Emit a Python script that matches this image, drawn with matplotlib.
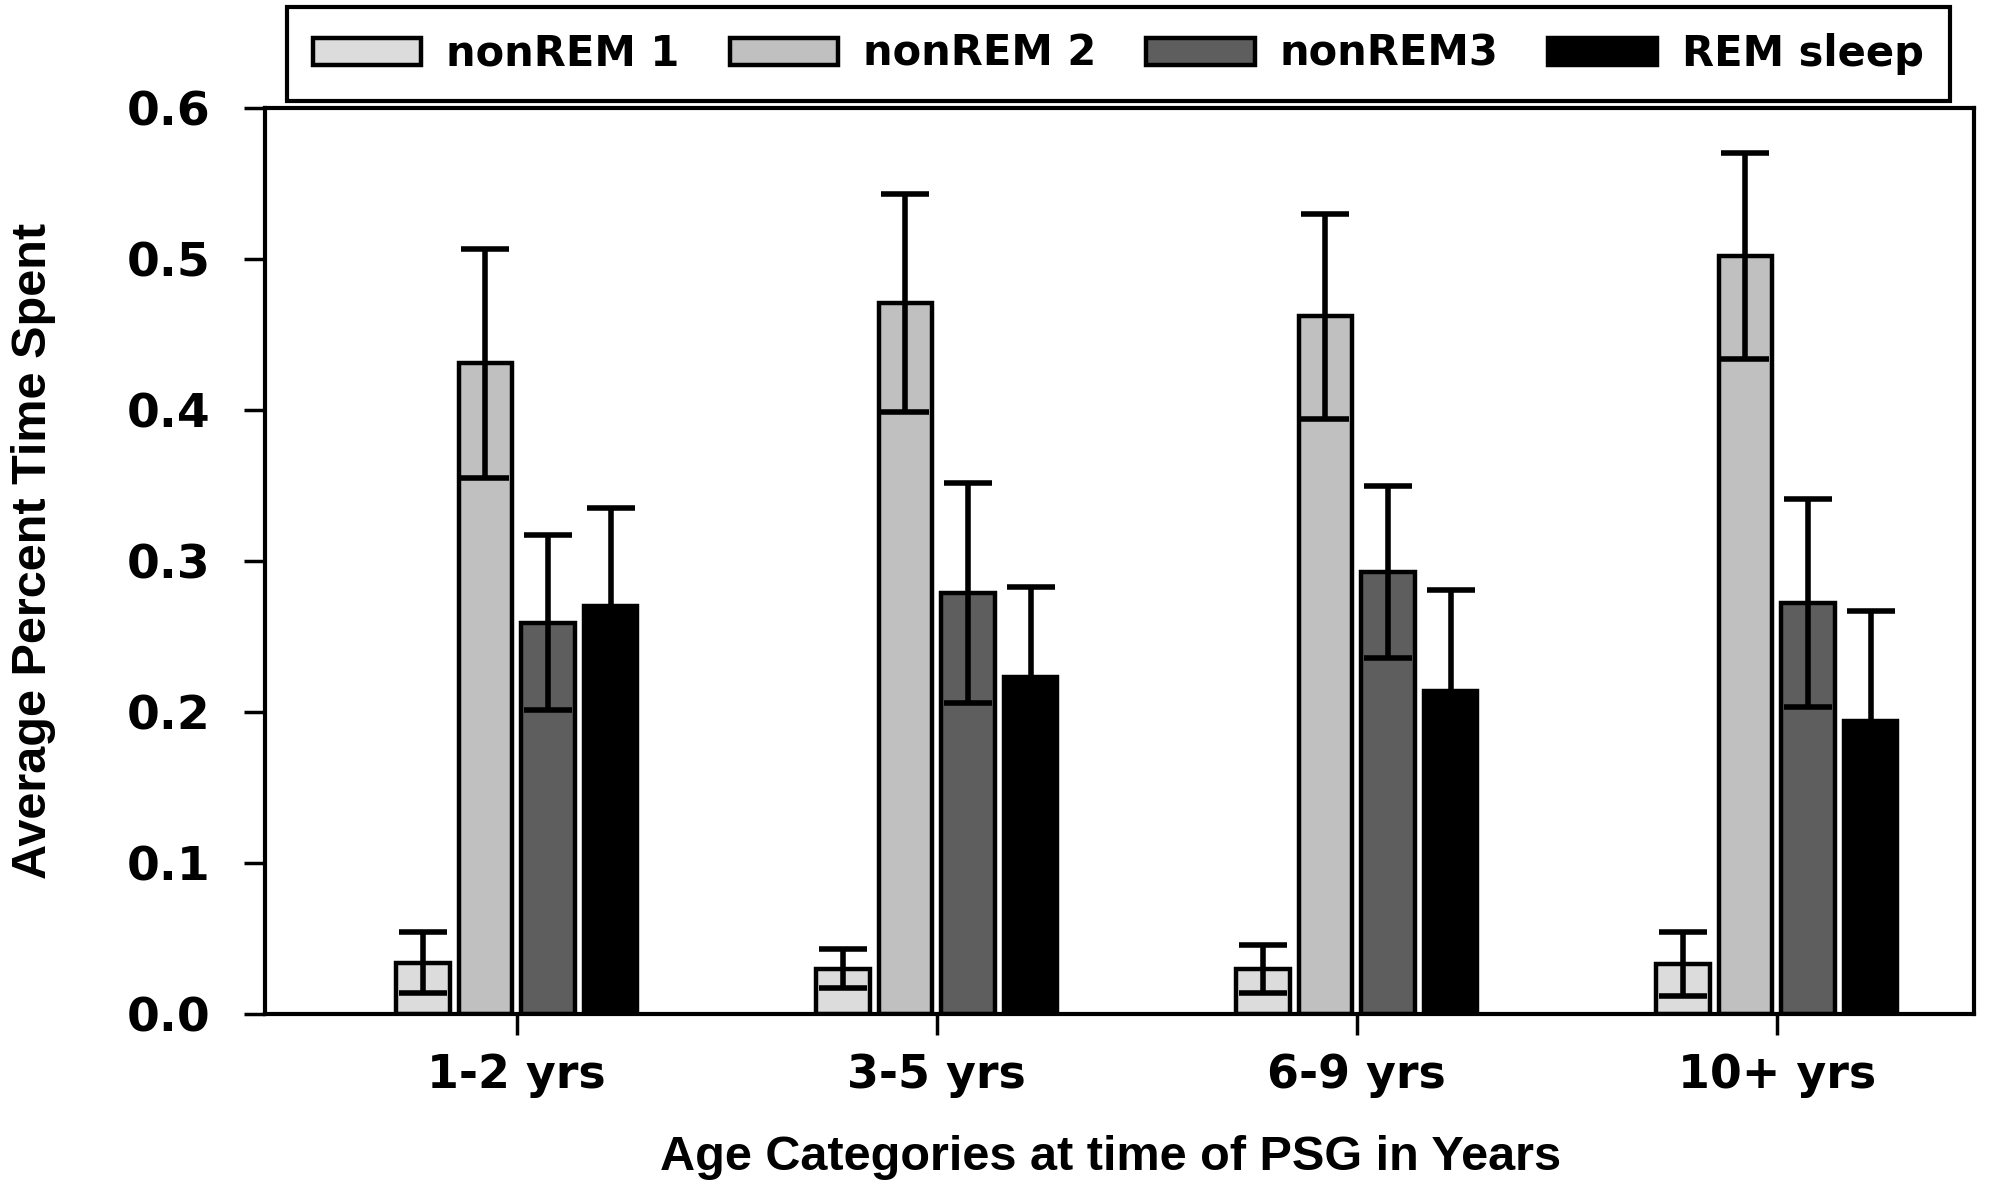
import numpy as np
import matplotlib.pyplot as plt

# age groups and sleep stages
age_groups = ['1-2 yrs', '3-5 yrs', '6-9 yrs', '10+ yrs']
stages = ['nonREM 1', 'nonREM 2', 'nonREM3', 'REM sleep']

# average fraction of time spent in each stage
nrem1 = [0.034, 0.030, 0.030, 0.033]
nrem2 = [0.431, 0.471, 0.462, 0.502]
nrem3 = [0.259, 0.279, 0.293, 0.272]
rem = [0.270, 0.223, 0.214, 0.194]

# error bar half-lengths
nrem1_err = [0.020, 0.013, 0.016, 0.021]
nrem2_err = [0.076, 0.072, 0.068, 0.068]
nrem3_err = [0.058, 0.073, 0.057, 0.069]
rem_err = [0.065, 0.060, 0.067, 0.073]

colors = ['#dcdcdc', '#c0c0c0', '#5e5e5e', '#000000']

values = [nrem1, nrem2, nrem3, rem]
errors = [nrem1_err, nrem2_err, nrem3_err, rem_err]

fig = plt.figure(figsize=(19.9, 11.88), dpi=100)
ax = fig.add_axes([0.133, 0.1465, 0.859, 0.7625])

x = np.arange(len(age_groups))
step = 0.149
width = 0.128

for i, (vals, errs) in enumerate(zip(values, errors)):
    pos = x + (i - 1.5) * step
    ax.bar(pos, vals, width, color=colors[i], edgecolor='black', linewidth=3.2,
           label=stages[i], zorder=2)
    ax.errorbar(pos, vals, yerr=errs, fmt='none', ecolor='black', elinewidth=4,
                capsize=17, capthick=4, zorder=3)

ax.set_xlim(-0.6, 3.47)
ax.set_ylim(0, 0.6)
ax.set_yticks([0.0, 0.1, 0.2, 0.3, 0.4, 0.5, 0.6])
ax.set_yticklabels(['0.0', '0.1', '0.2', '0.3', '0.4', '0.5', '0.6'],
                   fontfamily='DejaVu Sans', fontweight='bold', fontsize=34)
ax.set_xticks(x)
ax.set_xticklabels(age_groups, fontfamily='DejaVu Sans', fontweight='bold', fontsize=33)

ax.tick_params(axis='y', direction='out', length=15, width=2.5, pad=24)
ax.tick_params(axis='x', direction='out', length=15, width=2.5, pad=13)

for s in ax.spines.values():
    s.set_linewidth(3)

ax.set_xlabel('Age Categories at time of PSG in Years', fontfamily='Liberation Sans',
              fontweight='bold', fontsize=35)
ax.xaxis.set_label_coords(0.495, -0.158)
ax.xaxis.label.set_va('center')
ax.set_ylabel('Average Percent Time Spent', fontfamily='Liberation Sans',
              fontweight='bold', fontsize=35)
ax.yaxis.set_label_coords(-0.135, 0.511)
ax.yaxis.label.set_va('center')

leg = fig.legend(loc='upper center', bbox_to_anchor=(0.562, 0.994), ncol=4,
                 prop={'family': 'DejaVu Sans', 'weight': 'bold', 'size': 30},
                 handlelength=2.6, handleheight=0.62, handletextpad=0.6,
                 columnspacing=1.2, borderpad=0.62, borderaxespad=0,
                 fancybox=False, edgecolor='black', framealpha=1)
leg.get_frame().set_linewidth(3)

fig.savefig('out.png', dpi=100)
